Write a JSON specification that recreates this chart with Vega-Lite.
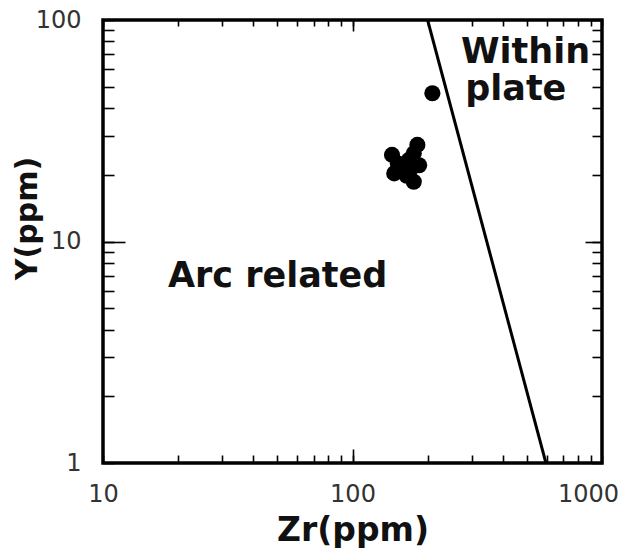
{
  "$schema": "https://vega.github.io/schema/vega-lite/v6.json",
  "width": 499,
  "height": 443,
  "autosize": "none",
  "padding": {"left": 103, "top": 20, "right": 23, "bottom": 95},
  "background": "white",
  "config": {
    "view": {"stroke": "black", "strokeWidth": 3.5},
    "axis": {
      "grid": false,
      "domain": false,
      "tickColor": "black",
      "tickWidth": 1.6,
      "labelFont": "DejaVu Sans",
      "labelFontSize": 24,
      "labelColor": "#333",
      "labelOverlap": false,
      "labelFlush": false,
      "titleFont": "DejaVu Sans",
      "titleFontWeight": "bold",
      "titleColor": "#111"
    }
  },
  "datasets": {
    "samples": [
      {"Zr": 209, "Y": 46.7},
      {"Zr": 144, "Y": 24.6},
      {"Zr": 182, "Y": 27.3},
      {"Zr": 147, "Y": 20.3},
      {"Zr": 176, "Y": 18.6},
      {"Zr": 185, "Y": 22.1},
      {"Zr": 168, "Y": 23.3},
      {"Zr": 158, "Y": 21.5},
      {"Zr": 170, "Y": 21.0},
      {"Zr": 176, "Y": 25.0},
      {"Zr": 152, "Y": 22.5},
      {"Zr": 165, "Y": 19.8}
    ],
    "boundary": [
      {"Zr": 200, "Y": 100},
      {"Zr": 596, "Y": 1}
    ],
    "labels": [
      {"Zr": 18.2, "Y": 6.23, "text": "Arc related"},
      {"Zr": 272, "Y": 64, "text": "Within"},
      {"Zr": 283, "Y": 43.5, "text": "plate"}
    ]
  },
  "resolve": {"axis": {"x": "independent", "y": "independent"}},
  "layer": [
    {
      "data": {"name": "boundary"},
      "mark": {"type": "line", "color": "black", "strokeWidth": 3, "clip": true},
      "encoding": {
        "x": {
          "field": "Zr", "type": "quantitative",
          "scale": {"type": "log", "domain": [10, 1000]},
          "title": "Zr(ppm)",
          "axis": {
            "orient": "bottom",
            "values": [10, 20, 30, 40, 50, 60, 70, 80, 90, 100, 200, 300, 400, 500, 600, 700, 800, 900, 1000],
            "tickSize": -8,
            "format": "d",
            "labelExpr": "(datum.value == 10 || datum.value == 100 || datum.value == 1000) ? datum.label : ''",
            "labelOffset": {"condition": {"test": "datum.value == 1000", "value": -14}, "value": 0},
            "labelPadding": 27,
            "titleFontSize": 33,
            "titlePadding": 8
          }
        },
        "y": {
          "field": "Y", "type": "quantitative",
          "scale": {"type": "log", "domain": [1, 100]},
          "title": "Y(ppm)",
          "axis": {
            "orient": "left",
            "values": [1, 2, 3, 4, 5, 6, 7, 8, 9, 10, 20, 30, 40, 50, 60, 70, 80, 90, 100],
            "tickSize": -11,
            "format": "d",
            "labelExpr": "(datum.value == 1 || datum.value == 10 || datum.value == 100) ? datum.label : ''",
            "labelPadding": 33,
            "titleFontSize": 30,
            "titlePadding": -7,
            "titleY": 198
          }
        }
      }
    },
    {
      "data": {"name": "samples"},
      "mark": {"type": "point", "shape": "circle", "filled": true, "color": "black", "opacity": 1, "size": 260},
      "encoding": {
        "x": {
          "field": "Zr", "type": "quantitative",
          "axis": {
            "orient": "top",
            "values": [10, 20, 30, 40, 50, 60, 70, 80, 90, 100, 200, 300, 400, 500, 600, 700, 800, 900, 1000],
            "tickSize": -6,
            "labels": false,
            "title": null
          }
        },
        "y": {
          "field": "Y", "type": "quantitative",
          "axis": {
            "orient": "right",
            "values": [1, 2, 3, 4, 5, 6, 7, 8, 9, 10, 20, 30, 40, 50, 60, 70, 80, 90, 100],
            "tickSize": -10,
            "labels": false,
            "title": null
          }
        }
      }
    },
    {
      "data": {"name": "labels"},
      "mark": {"type": "text", "align": "left", "baseline": "alphabetic", "font": "DejaVu Sans", "fontWeight": "bold", "fontSize": 35, "color": "#111"},
      "encoding": {
        "x": {
          "field": "Zr", "type": "quantitative",
          "axis": {"orient": "bottom", "values": [100], "tickSize": -14, "labels": false, "title": null}
        },
        "y": {
          "field": "Y", "type": "quantitative",
          "axis": {"orient": "left", "values": [10], "tickSize": -22, "labels": false, "title": null}
        },
        "text": {"field": "text"}
      }
    },
    {
      "data": {"name": "boundary"},
      "mark": {"type": "point", "opacity": 0},
      "encoding": {
        "x": {
          "field": "Zr", "type": "quantitative",
          "axis": {"orient": "top", "values": [100], "tickSize": -11, "labels": false, "title": null}
        },
        "y": {
          "field": "Y", "type": "quantitative",
          "axis": {"orient": "right", "values": [10], "tickSize": -17, "labels": false, "title": null}
        }
      }
    }
  ]
}
